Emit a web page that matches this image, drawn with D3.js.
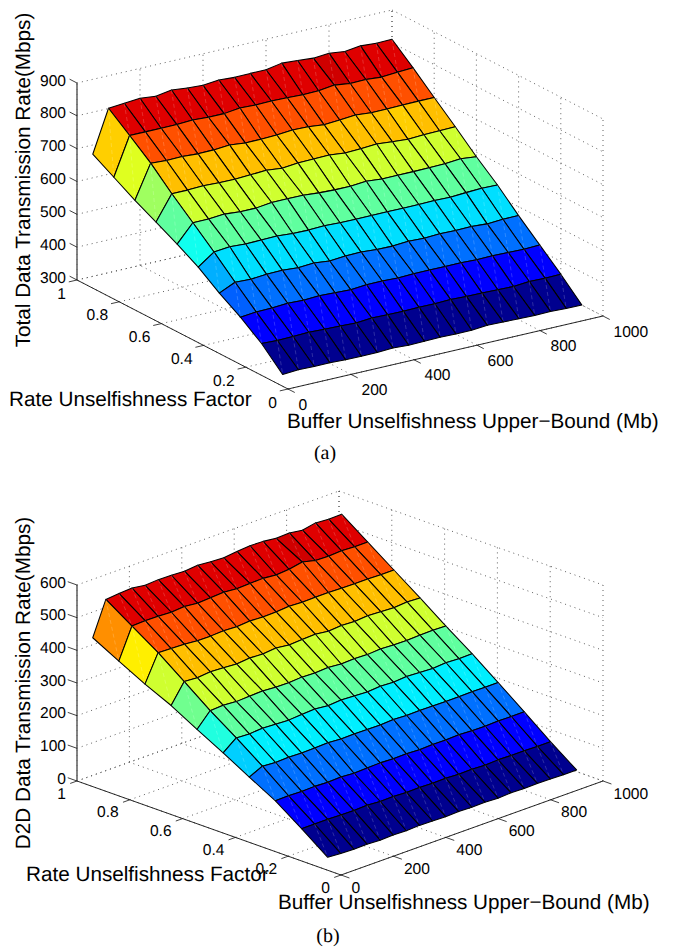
<!DOCTYPE html>
<html>
<head>
<meta charset="utf-8">
<script src="https://cdn.jsdelivr.net/npm/d3@7"></script>
<style>
  html, body { margin: 0; padding: 0; background: #fff; }
  svg { display: block; }
  text { font-family: "Liberation Sans", Arial, sans-serif; fill: #000; text-rendering: geometricPrecision; }
</style>
</head>
<body>
<div id="viz"></div>
<script>
// values
var bufferValues = [50,100,150,200,250,300,350,400,450,500,550,600,650,700,750,800,850,900,950,1000];
var rateValues = [0.1,0.2,0.3,0.4,0.5,0.6,0.7,0.8,0.9,1];
var d2dRateValues = [0.1,0.199,0.298,0.397,0.496,0.595,0.693,0.792,0.891,0.99];

// one row per rate value, one column per buffer value
var totalRate = [
  [300,303,302,302,300,300,300,303,300,301,302,301,301,305,304,303,302,303,301,300],
  [361,359,360,362,360,359,357,361,360,359,360,360,362,360,359,358,357,361,360,361],
  [408,413,414,417,415,418,416,414,418,418,416,418,418,418,418,416,417,416,415,417],
  [448,470,468,472,473,470,473,468,472,473,470,469,473,471,473,472,473,470,473,473],
  [494,529,534,531,532,533,530,529,531,529,529,529,529,529,529,530,529,532,534,533],
  [531,585,585,589,585,585,591,591,591,587,585,585,589,585,585,585,586,587,591,586],
  [565,640,640,642,640,640,642,645,640,645,646,647,642,644,647,643,639,642,643,644],
  [598,700,697,698,695,696,700,695,695,697,701,700,695,698,702,698,698,699,700,700],
  [635,751,751,751,751,754,751,751,757,755,756,755,753,754,760,754,755,751,755,757],
  [672,801,805,809,804,812,807,804,809,806,807,807,816,813,809,813,807,813,810,811]
];
var d2dRate = [
  [11,8,7,8,6,7,6,8,7,6,7,6,7,5,7,6,7,6,5,5],
  [70,70,70,69,68,70,67,68,66,67,65,66,64,65,63,65,64,64,63,63],
  [127,128,127,128,126,128,125,127,128,126,127,125,127,126,128,126,125,127,126,126],
  [171,190,187,189,187,188,190,187,188,187,187,189,187,188,187,187,187,188,187,187],
  [217,248,246,249,247,245,248,250,246,249,247,245,248,246,249,247,245,248,246,247],
  [260,303,305,302,304,306,303,302,305,303,306,302,304,302,305,303,302,304,305,303],
  [305,364,361,365,363,360,364,362,366,361,363,365,360,363,361,364,362,360,363,361],
  [342,424,422,421,417,417,419,417,420,418,419,422,420,421,421,420,419,419,418,418],
  [384,477,479,478,476,479,475,477,480,476,478,479,475,478,486,476,475,477,475,475],
  [427,530,534,536,530,533,532,530,534,530,528,533,536,535,530,532,526,534,531,532]
];

var bufferTicks = [0,200,400,600,800,1000];
var rateTicks = [0,0.2,0.4,0.6,0.8,1];
var totalTicks = [300,400,500,600,700,800,900];
var d2dTicks = [0,100,200,300,400,500,600];

var svg = d3.select('#viz').append('svg')
  .attr('width', 674)
  .attr('height', 947);

// matlab jet colormap, 64 levels
var jet = d3.range(64).map(function (i) {
  var t = (i + 1) / 64;
  var c = function (v) { return Math.round(255 * Math.max(0, Math.min(1, v))); };
  return d3.rgb(
    c(Math.min(4 * t - 1.5, -4 * t + 4.5)),
    c(Math.min(4 * t - 0.5, -4 * t + 3.5)),
    c(Math.min(4 * t + 0.5, -4 * t + 2.5))
  ).formatHex();
});

function drawChart(o) {
  var g = svg.append('g');

  // the box is an oblique projection: each axis has a scale for its screen shift
  var bx = d3.scaleLinear().domain([0, 1000]).range([0, o.right[0] - o.front[0]]);
  var by = d3.scaleLinear().domain([0, 1000]).range([0, o.right[1] - o.front[1]]);
  var rx = d3.scaleLinear().domain([0, 1]).range([0, o.left[0] - o.front[0]]);
  var ry = d3.scaleLinear().domain([0, 1]).range([0, o.left[1] - o.front[1]]);
  var zy = d3.scaleLinear().domain(d3.extent(o.zTicks)).range([0, -o.zHeight]);
  var color = d3.scaleQuantize().domain(o.colorDomain).range(jet);

  function p(b, r, z) {
    return [o.front[0] + bx(b) + rx(r), o.front[1] + by(b) + ry(r) + zy(z)];
  }
  var line = d3.line();
  var zMin = o.zTicks[0], zMax = o.zTicks[o.zTicks.length - 1];

  // dotted grid on floor and back walls
  var segs = [];
  bufferTicks.forEach(function (b) {
    segs.push([p(b, 0, zMin), p(b, 1, zMin)]);
    segs.push([p(b, 1, zMin), p(b, 1, zMax)]);
  });
  rateTicks.forEach(function (r) {
    segs.push([p(0, r, zMin), p(1000, r, zMin)]);
    segs.push([p(1000, r, zMin), p(1000, r, zMax)]);
  });
  o.zTicks.forEach(function (z) {
    segs.push([p(0, 1, z), p(1000, 1, z)]);
    segs.push([p(1000, 1, z), p(1000, 0, z)]);
  });
  g.selectAll('.grid').data(segs).enter().append('path')
    .attr('class', 'grid')
    .attr('d', line)
    .attr('fill', 'none')
    .attr('stroke', '#444')
    .attr('stroke-width', 1)
    .attr('stroke-opacity', 0.85)
    .attr('stroke-dasharray', '1 4');

  // axis lines
  g.append('path').attr('d', line([p(0, 1, zMin), p(0, 0, zMin), p(1000, 0, zMin)]))
    .attr('fill', 'none').attr('stroke', '#111').attr('stroke-width', 0.9);
  g.append('path').attr('d', line([p(0, 1, zMin), p(0, 1, zMax)]))
    .attr('fill', 'none').attr('stroke', '#666').attr('stroke-width', 1.6);

  // ticks and labels
  bufferTicks.forEach(function (b) {
    g.append('path').attr('d', line([p(b, 0, zMin), p(b, -0.032, zMin)]))
      .attr('fill', 'none').attr('stroke', '#111').attr('stroke-width', 0.8);
    var q = p(b, 0, zMin);
    g.append('text').attr('x', q[0] + 10.5).attr('y', q[1] + o.bufferLabelDy + 5.6)
      .attr('font-size', 15.6).text(b);
  });
  rateTicks.forEach(function (r) {
    g.append('path').attr('d', line([p(0, r, zMin), p(-26, r, zMin)]))
      .attr('fill', 'none').attr('stroke', '#111').attr('stroke-width', 0.8);
    var q = p(0, r, zMin);
    g.append('text').attr('x', q[0] - 11).attr('y', q[1] + o.rateLabelDy + 5.6)
      .attr('text-anchor', 'end').attr('font-size', 15.6).text(r);
  });
  o.zTicks.forEach(function (z) {
    g.append('path').attr('d', line([p(0, 1, z), p(0, 1.035, z)]))
      .attr('fill', 'none').attr('stroke', '#111').attr('stroke-width', 0.8);
    var q = p(0, 1, z);
    g.append('text').attr('x', q[0] - 11).attr('y', q[1] + 2.6)
      .attr('text-anchor', 'end').attr('font-size', 15.6).text(z);
  });

  // surface cells, far ones first; a cell takes the colour of its low corner
  var cells = [];
  for (var i = o.rates.length - 2; i >= 0; i--) {
    for (var j = bufferValues.length - 2; j >= 0; j--) {
      cells.push({i: i, j: j});
    }
  }
  function v(i, j) { return p(bufferValues[j], o.rates[i], o.values[i][j]); }

  var cell = g.selectAll('.cell').data(cells).enter().append('g').attr('class', 'cell');
  cell.append('path')
    .attr('d', function (d) {
      return line([v(d.i, d.j), v(d.i, d.j + 1), v(d.i + 1, d.j + 1), v(d.i + 1, d.j)]) + 'Z';
    })
    .attr('fill', function (d) { return color(o.values[d.i][d.j]); })
    .attr('stroke', '#000')
    .attr('stroke-width', 1.05)
    .attr('stroke-linejoin', 'round');
  // faint seam down each cell, from the triangles of the original pdf
  cell.append('path')
    .attr('d', function (d) { return line([v(d.i + 1, d.j + 1), v(d.i, d.j)]); })
    .attr('stroke', '#fff')
    .attr('stroke-width', 0.6)
    .attr('stroke-opacity', 0.3)
    .attr('stroke-dasharray', '4 3');

  // titles
  g.append('text').attr('transform', 'translate(' + o.zTitle[0] + ',' + o.zTitle[1] + ') rotate(-90)')
    .attr('text-anchor', 'middle').attr('font-size', 20.7).text(o.zLabel);
  g.append('text').attr('x', o.rateTitle[0]).attr('y', o.rateTitle[1])
    .attr('font-size', 20.7).text('Rate Unselfishness Factor');
  g.append('text').attr('x', o.bufferTitle[0]).attr('y', o.bufferTitle[1])
    .attr('font-size', 20.7).text('Buffer Unselfishness Upper\u2212Bound (Mb)');
  g.append('text').attr('x', o.caption[0]).attr('y', o.caption[1])
    .attr('text-anchor', 'middle').attr('font-size', 20)
    .style('font-family', '"Liberation Serif", serif').text(o.captionText);
}

drawChart({
  values: totalRate, rates: rateValues, zTicks: totalTicks, colorDomain: [300, 805],
  front: [288, 389], left: [77, 280], right: [603, 316], zHeight: 197,
  bufferLabelDy: 15, rateLabelDy: 13,
  zLabel: 'Total Data Transmission Rate(Mbps)', zTitle: [30, 180],
  rateTitle: [9, 406], bufferTitle: [287, 428],
  caption: [325, 459], captionText: '(a)'
});

drawChart({
  values: d2dRate, rates: d2dRateValues, zTicks: d2dTicks, colorDomain: [5, 532],
  front: [341, 875], left: [77, 781], right: [603, 781], zHeight: 196,
  bufferLabelDy: 12, rateLabelDy: 12,
  zLabel: 'D2D Data Transmission Rate(Mbps)', zTitle: [30, 683],
  rateTitle: [26, 881], bufferTitle: [278, 909],
  caption: [328, 942], captionText: '(b)'
});
</script>
</body>
</html>
